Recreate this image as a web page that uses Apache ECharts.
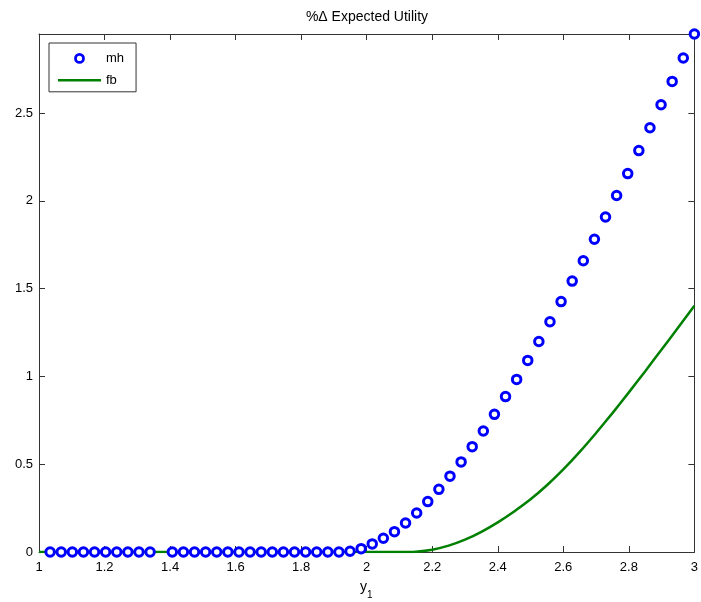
<!DOCTYPE html>
<html><head><meta charset="utf-8">
<script src="https://cdn.jsdelivr.net/npm/echarts@6/dist/echarts.min.js"></script>
<style>html,body{margin:0;padding:0;background:#fff}#c{width:701px;height:602px}</style>
</head><body><div id="c"></div>
<script>
const titleText = '%\u0394 Expected Utility';
const xTickLabels = ['1','1.2','1.4','1.6','1.8','2','2.2','2.4','2.6','2.8','3'];
const yTickLabels = ['0','0.5','1','1.5','2','2.5'];
const mhX = [1.0339,1.0678,1.1017,1.1356,1.1695,1.2034,1.2373,1.2712,1.3051,1.3390,
  1.4068,1.4407,1.4746,1.5085,1.5424,1.5763,1.6102,1.6441,1.6780,1.7119,1.7458,1.7797,1.8136,1.8475,1.8814,1.9153,1.9492,
  1.9831,2.0169,2.0508,2.0847,2.1186,2.1525,2.1864,2.2203,2.2542,2.2881,2.3220,2.3559,2.3898,2.4237,2.4576,2.4915,
  2.5254,2.5593,2.5932,2.6271,2.6610,2.6949,2.7288,2.7627,2.7966,2.8305,2.8644,2.8983,2.9322,2.9661,3.0000];
const mhY = [0,0,0,0,0,0,0,0,0,0,
  0,0,0,0,0,0,0,0,0,0,0,0,0,0,0,0,0.004,
  0.019,0.046,0.078,0.116,0.165,0.222,0.287,0.357,0.432,0.513,0.600,0.689,0.784,0.885,0.983,
  1.091,1.199,1.311,1.426,1.543,1.659,1.781,1.908,2.030,2.155,2.286,2.416,2.547,2.680,2.813,2.950];
const fbX = [1.0,1.5,2.0,2.10,2.15,2.20,2.25,2.30,2.35,2.40,2.45,2.50,2.55,2.60,2.65,2.70,2.75,2.80,2.85,2.90,2.95,3.0];
const fbY = [0,0,0,0,0.002,0.013,0.036,0.070,0.115,0.169,0.231,0.300,0.380,0.470,0.570,0.678,0.791,0.909,1.030,1.153,1.277,1.402];

const FONT = "'Liberation Sans', Arial, Helvetica, sans-serif";
const chart = echarts.init(document.getElementById('c'), null, {renderer:'canvas'});
const axisLineStyle = {color:'#333', width:1};
const tickStyle = {color:'#333', width:1};
function xAx(pos, showLabel){
  return {type:'value', min:1, max:3, interval:0.2, position:pos, gridIndex:0,
    axisLine:{show:true, onZero:false, lineStyle:axisLineStyle},
    axisTick:{show:true, inside:true, length:6, lineStyle:tickStyle},
    axisLabel:{show:showLabel, color:'#000', fontSize:13, fontFamily:FONT, margin:9,
      formatter:(v)=>xTickLabels[Math.round((v-1)/0.2)] ?? ''},
    splitLine:{show:false}};
}
function yAx(pos, showLabel){
  return {type:'value', min:0, max:2.95, interval:0.5, position:pos, gridIndex:0,
    axisLine:{show:true, onZero:false, lineStyle:axisLineStyle},
    axisTick:{show:true, inside:true, length:6, lineStyle:tickStyle},
    axisLabel:{show:showLabel, color:'#000', fontSize:13, fontFamily:FONT, margin:6, showMaxLabel:false,
      formatter:(v)=>{const i=Math.round(v/0.5); return (Math.abs(v-i*0.5)<1e-9 && yTickLabels[i]!==undefined)?yTickLabels[i]:'';}},
    splitLine:{show:false}};
}
chart.setOption({
  animation:false,
  backgroundColor:'#fff',
  title:{text:titleText, left:367, top:10, padding:0, textAlign:'center',
    textStyle:{fontSize:14, fontWeight:'normal', color:'#000', fontFamily:FONT}},
  grid:{left:39, top:34, width:656, height:518, show:false},
  xAxis:[xAx('bottom', true), xAx('top', false)],
  yAxis:[yAx('left', true), yAx('right', false)],
  legend:{orient:'vertical', left:49, top:43, padding:[8,12,5,9], itemGap:8,
    itemWidth:43, itemHeight:12, borderColor:'#333', borderWidth:1, borderRadius:0,
    backgroundColor:'#fff', symbolKeepAspect:true,
    textStyle:{fontSize:13, color:'#000', fontFamily:FONT},
    data:[
      {name:'mh', icon:'path://M0,0m-4,0a4,4 0 1,0 8,0a4,4 0 1,0 -8,0M-6,-6L-6,-6M6,6L6,6',
        itemStyle:{color:'#fff', borderColor:'#0000ff', borderWidth:2.8}},
      {name:'fb', icon:'path://M0,0h43v2.5h-43z', itemStyle:{color:'#008000', borderWidth:0}}
    ]},
  graphic:[
    {type:'text', x:360, y:587, style:{text:'y', font:'14px '+FONT, fill:'#000', verticalAlign:'middle', align:'left'}},
    {type:'text', x:367, y:595, style:{text:'1', font:'10px '+FONT, fill:'#000', verticalAlign:'middle', align:'left'}}
  ],
  series:[
    {name:'fb', type:'line', xAxisIndex:0, yAxisIndex:0, data:fbX.map((x,i)=>[x, fbY[i]]),
      symbol:'none', smooth:0.2, lineStyle:{color:'#008000', width:2.5}, itemStyle:{color:'#008000'}, z:2},
    {name:'mh', type:'scatter', xAxisIndex:0, yAxisIndex:0, data:mhX.map((x,i)=>[x, mhY[i]]),
      symbol:'circle', symbolSize:8.5, clip:false,
      itemStyle:{color:'#fff', borderColor:'#0000ff', borderWidth:3, opacity:1}, z:3}
  ]
});
</script></body></html>
